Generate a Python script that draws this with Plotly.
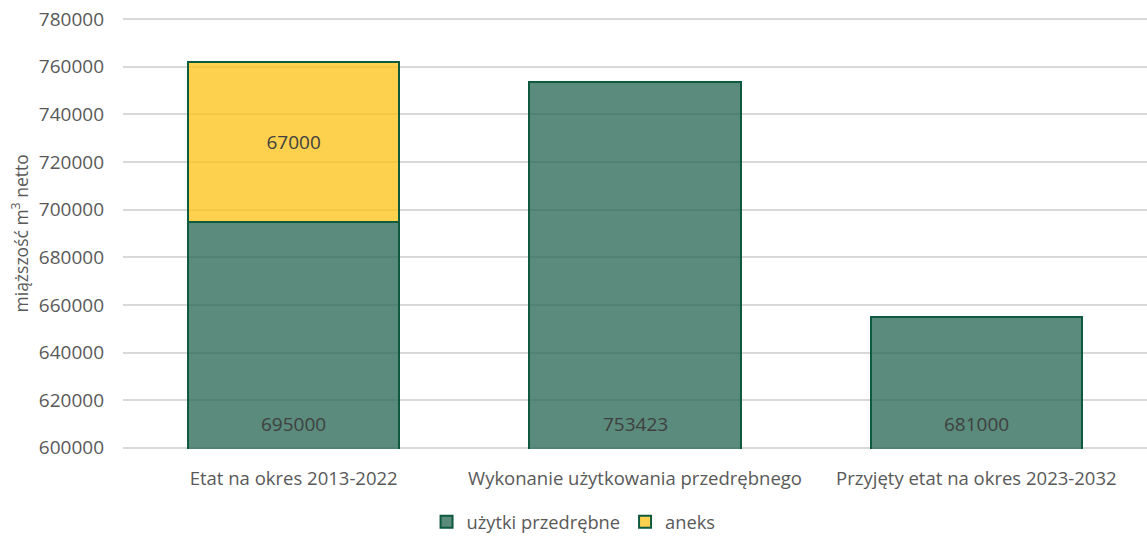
import plotly.graph_objects as go

categories = ["Etat na okres 2013-2022", "Wykonanie użytkowania przedrębnego", "Przyjęty etat na okres 2023-2032"]
uzytki_values = [695000, 753423, 655000]
uzytki_labels = ["695000", "753423", "681000"]
aneks_values = [67000, 0, 0]
aneks_labels = ["67000", "", ""]
y_ticks = list(range(600000, 780001, 20000))
y_title = "miąższość m<sup>3</sup> netto"

FONT = "Open Sans"
GREEN = "rgba(35,100,80,0.75)"
YELLOW = "rgba(252,192,19,0.75)"
EDGE = "#0d5a3f"

fig = go.Figure()
fig.add_trace(go.Bar(
    x=categories, y=uzytki_values, name="użytki przedrębne",
    marker=dict(color=GREEN, line=dict(color=EDGE, width=2)),
    hoverinfo="skip",
))
fig.add_trace(go.Bar(
    x=categories, y=aneks_values, name="aneks",
    marker=dict(color=YELLOW, line=dict(color=EDGE, width=2)),
    text=aneks_labels, textposition="inside", insidetextanchor="middle",
    textfont=dict(family=FONT, size=19, color="#404040"),
    hoverinfo="skip",
))

for cat, lab in zip(categories, uzytki_labels):
    fig.add_annotation(
        x=cat, y=y_ticks[0], text=lab, showarrow=False,
        yanchor="middle", yshift=24,
        font=dict(family=FONT, size=19, color="#404040"),
    )

fig.add_annotation(
    xref="paper", yref="paper", x=-0.1006, y=0.5, text=y_title,
    textangle=-90, showarrow=False, xanchor="center", yanchor="middle",
    font=dict(family=FONT, size=17.5, color="#595959"),
)

pad = 500
fig.update_layout(
    barmode="stack",
    bargap=0.38,
    width=1147, height=537,
    margin=dict(l=123, r=0, t=18, b=88, autoexpand=False),
    paper_bgcolor="white", plot_bgcolor="white",
    font=dict(family=FONT, color="#595959"),
    legend=dict(
        orientation="h", x=0.440, xanchor="center", y=-0.169, yanchor="middle",
        font=dict(family=FONT, size=18.3, color="#595959"),
        traceorder="normal", itemwidth=30,
    ),
    xaxis=dict(
        showgrid=False, showline=False, zeroline=False, automargin=False,
        tickfont=dict(family=FONT, size=18.5, color="#595959"),
        ticks="", ticklabelstandoff=16,
    ),
    yaxis=dict(
        range=[y_ticks[0] - pad, y_ticks[-1] + pad], automargin=False,
        tickvals=y_ticks, ticktext=[str(v) for v in y_ticks],
        showgrid=True, gridcolor="#d9d9d9", gridwidth=1.5,
        zeroline=False, showline=False,
        tickfont=dict(family=FONT, size=19, color="#595959"),
        ticks="", ticklabelstandoff=18, ticklabeloverflow="allow",
    ),
)

fig.write_html(
    "out.html",
    config={"displayModeBar": False},
    post_script="document.body.style.margin='0';document.body.style.overflow='hidden';",
)
